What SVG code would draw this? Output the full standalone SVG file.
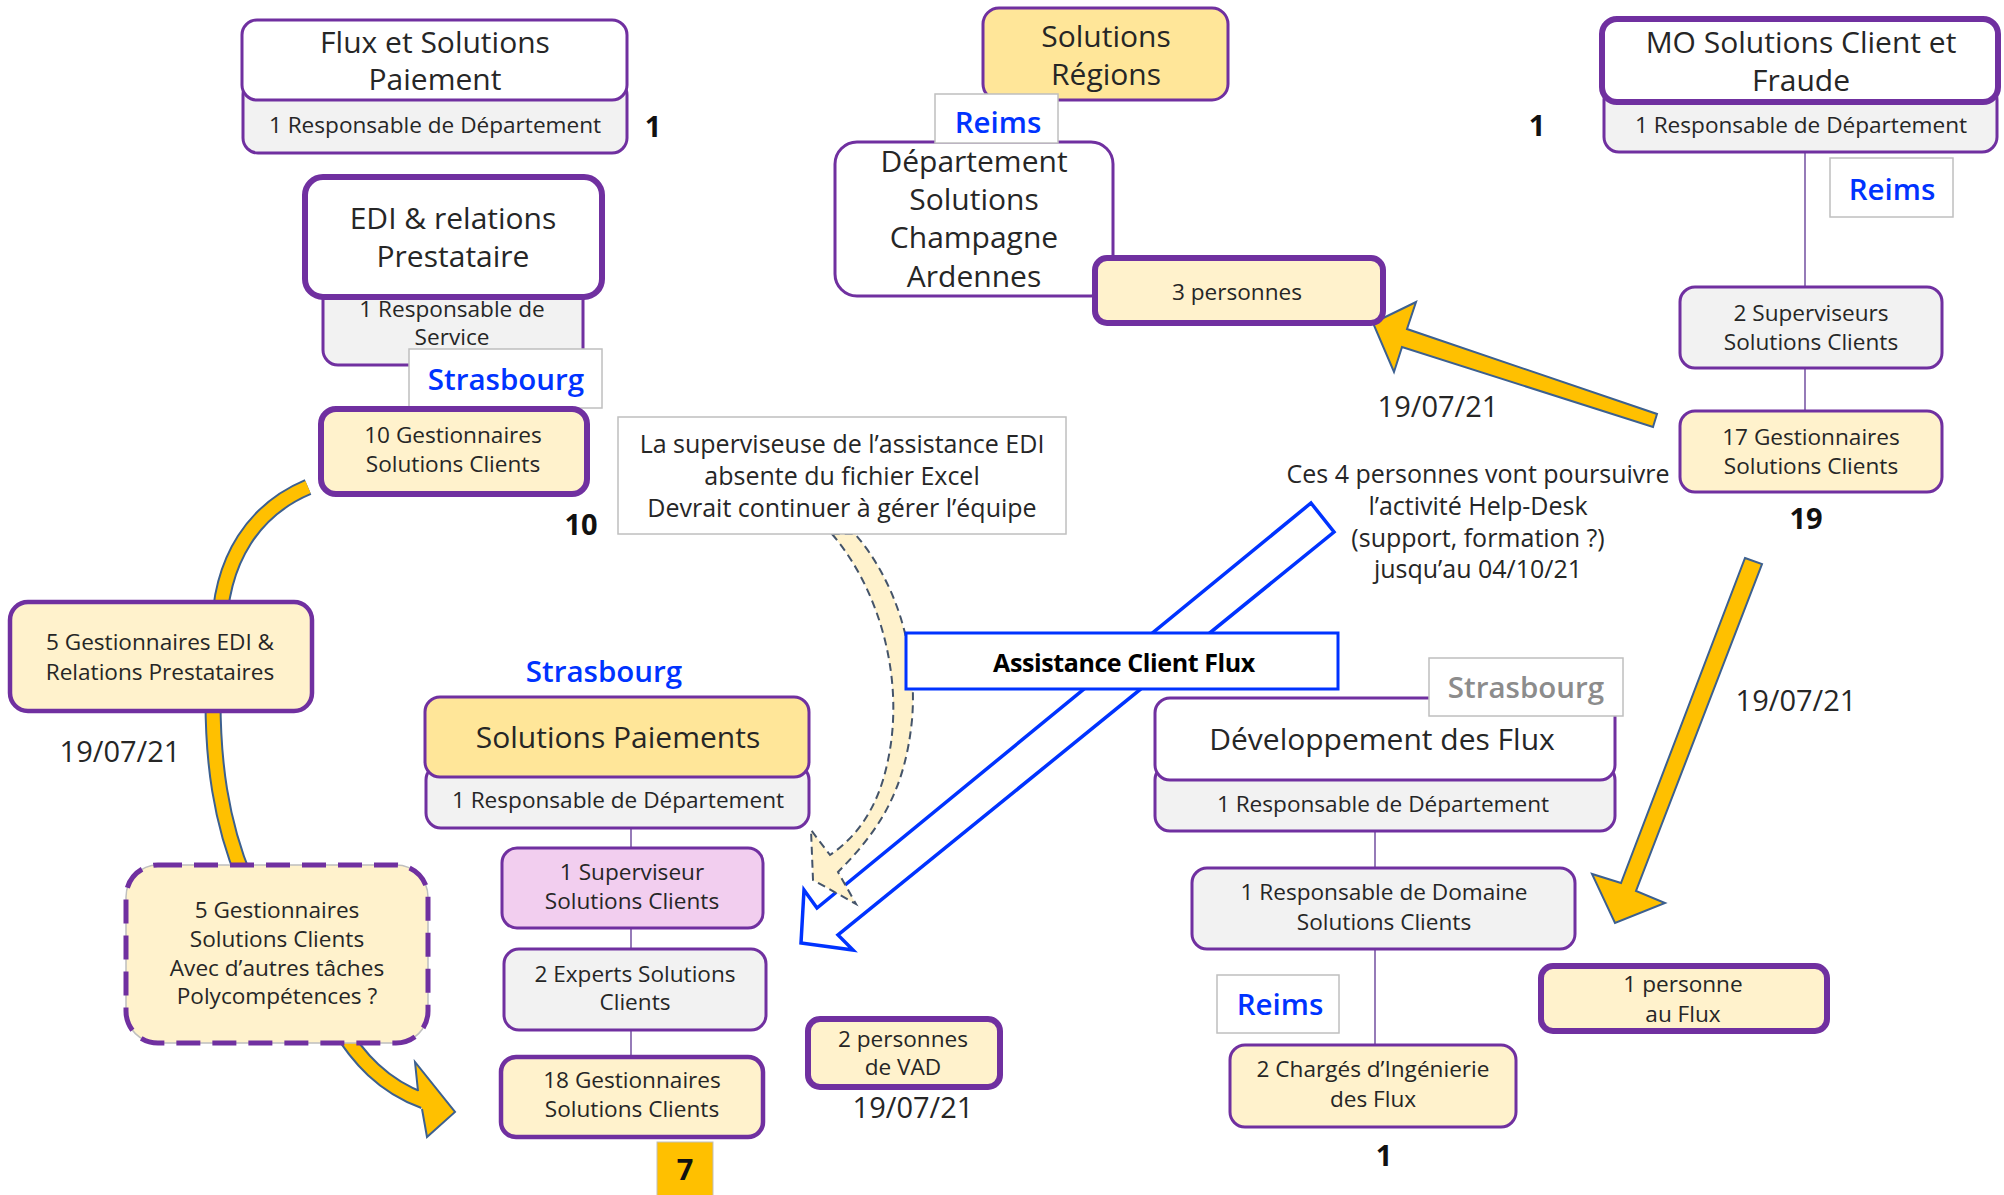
<svg xmlns="http://www.w3.org/2000/svg" width="2004" height="1195" viewBox="0 0 2004 1195">
<style>
text{font-family:"Open Sans","Noto Sans","DejaVu Sans",sans-serif;fill:#262626;text-anchor:middle}
.h{font-size:30px}
.s{font-size:22.6px}
.m{font-size:25px}
.dt{font-size:29px}
.num{font-size:29px;font-weight:700;fill:#111}
.loc{font-size:29.5px;font-weight:600;fill:#0033FF}
.locg{font-size:29.5px;font-weight:600;fill:#8C8C8C}
.lbl{font-size:25px;font-weight:700;fill:#000;letter-spacing:-0.4px}
.box{stroke:#7030A0;stroke-width:3}
.thick{stroke-width:6}
.mid{stroke-width:4.5}
.w{fill:#fff}
.g{fill:#F2F2F2}
.y{fill:#FFF2CC}
.gold{fill:#FFE699}
.pink{fill:#F2CEEF}
.tag{fill:#fff;stroke:#BFBFBF;stroke-width:1.5}
.link{stroke:#7B5AA6;stroke-width:1.6;fill:none}
.arr{fill:#FFC000;stroke:#3C6090;stroke-width:2;stroke-linejoin:miter}
.shaftO{fill:none;stroke:#3C6090;stroke-width:17}
.shaftI{fill:none;stroke:#FFC000;stroke-width:13}
</style>

<!-- connectors: tree lines and transfer arrows -->
<g id="connectors">
  <!-- hierarchy lines -->
  <line class="link" x1="1805" y1="152" x2="1805" y2="287"/>
  <line class="link" x1="1805" y1="368" x2="1805" y2="411"/>
  <line class="link" x1="631" y1="828" x2="631" y2="848"/>
  <line class="link" x1="631" y1="928" x2="631" y2="949"/>
  <line class="link" x1="631" y1="1030" x2="631" y2="1057"/>
  <line class="link" x1="1375" y1="831" x2="1375" y2="868"/>
  <line class="link" x1="1375" y1="949" x2="1375" y2="1045"/>

  <!-- MO team -> 3 personnes -->
  <polygon class="arr" points="1373,323 1416,302 1407,329 1657,414 1653,427 1402,347 1394,372"/>
  <!-- MO team -> 1 personne au Flux -->
  <polygon class="arr" points="1745,558 1762,564 1636,891 1665,903 1615,923 1592,874 1621,883"/>

  <!-- EDI team curved flow -->
  <path class="shaftO" d="M308,487 C258,508 218,556 219,640"/>
  <path class="shaftI" d="M308,487 C258,508 218,556 219,640"/>
  <path class="shaftO" d="M213,700 C213,760 220,820 245,880"/>
  <path class="shaftI" d="M213,700 C213,760 220,820 245,880"/>
  <path class="shaftO" d="M338,1025 C358,1058 383,1086 424,1101"/>
  <path class="shaftI" d="M338,1025 C358,1058 383,1086 424,1101"/>
  <polygon fill="#FFC000" points="418,1091 415,1062 455,1112 427,1137 422,1109"/>
  <polyline fill="none" stroke="#3C6090" stroke-width="2" points="418,1091 415,1062 455,1112 427,1137 422,1109"/>

  <!-- Assistance Client Flux hollow arrow -->
  <polygon fill="#fff" stroke="#0033FF" stroke-width="3.5" points="1311,503 1334,532 838,935 853,950 801,943 804,890 817,908"/>

  <!-- supervisor note dashed arrow -->
  <path fill="#FFF2CC" stroke="#44546A" stroke-width="2" stroke-dasharray="8 5" d="M832,534 C880,590 905,680 888,760 C878,810 855,838 830,855 L811,830 L813,880 L856,904 L838,872 C880,830 905,790 912,720 C918,650 895,580 855,534 Z"/>
</g>

<!-- Flux et Solutions Paiement -->
<g id="flux-solutions-paiement">
  <rect class="box g" x="243" y="80" width="384" height="73" rx="15"/>
  <rect class="box w" x="242" y="20" width="385" height="80" rx="15"/>
  <text class="h" x="435" y="53">Flux et Solutions</text>
  <text class="h" x="435" y="90">Paiement</text>
  <text class="s" x="435" y="133">1 Responsable de Département</text>
  <text class="num" x="653" y="137">1</text>
</g>

<!-- EDI & relations Prestataire -->
<g id="edi-relations">
  <rect class="box g" x="323" y="270" width="260" height="95" rx="15"/>
  <rect class="box thick w" x="305" y="177" width="297" height="120" rx="18"/>
  <text class="h" x="453" y="229">EDI &amp; relations</text>
  <text class="h" x="453" y="267">Prestataire</text>
  <text class="s" x="452" y="317">1 Responsable de</text>
  <text class="s" x="452" y="345">Service</text>
</g>
<g id="tag-strasbourg-edi">
  <rect class="tag" x="409" y="349" width="193" height="59"/>
  <text class="loc" x="506" y="390">Strasbourg</text>
</g>

<g id="gest-10">
  <rect class="box thick y" x="321" y="409" width="266" height="85" rx="15"/>
  <text class="s" x="453" y="443">10 Gestionnaires</text>
  <text class="s" x="453" y="472">Solutions Clients</text>
  <text class="num" x="581" y="535">10</text>
</g>

<g id="gest-edi-5">
  <rect class="box mid y" x="10" y="602" width="302" height="109" rx="18"/>
  <text class="s" x="160" y="650">5 Gestionnaires EDI &amp;</text>
  <text class="s" x="160" y="680">Relations Prestataires</text>
</g>
<text class="dt" x="120" y="762">19/07/21</text>

<g id="gest-poly-5">
  <rect x="126" y="865" width="302" height="178" rx="32" fill="#FFF2CC" stroke="#BFBFBF" stroke-width="1.5"/>
  <rect x="126" y="865" width="302" height="178" rx="32" fill="none" stroke="#7030A0" stroke-width="5" stroke-dasharray="24 12"/>
  <text class="s" x="277" y="918">5 Gestionnaires</text>
  <text class="s" x="277" y="947">Solutions Clients</text>
  <text class="s" x="277" y="976">Avec d’autres tâches</text>
  <text class="s" x="277" y="1004">Polycompétences ?</text>
</g>

<!-- note -->
<g id="note-superviseuse">
  <rect class="tag" x="618" y="417" width="448" height="117"/>
  <text class="m" x="842" y="453">La superviseuse de l’assistance EDI</text>
  <text class="m" x="842" y="485">absente du fichier Excel</text>
  <text class="m" x="842" y="517">Devrait continuer à gérer l’équipe</text>
</g>

<!-- Solutions Régions -->
<g id="solutions-regions">
  <rect class="box gold" x="983" y="8" width="245" height="92" rx="16"/>
  <text class="h" x="1106" y="47">Solutions</text>
  <text class="h" x="1106" y="85">Régions</text>
</g>
<g id="dept-champagne">
  <rect class="box w" x="835" y="142" width="278" height="154" rx="22"/>
  <text class="h" x="974" y="172">Département</text>
  <text class="h" x="974" y="210">Solutions</text>
  <text class="h" x="974" y="248">Champagne</text>
  <text class="h" x="974" y="287">Ardennes</text>
</g>
<g id="tag-reims-champagne">
  <rect class="tag" x="935" y="94" width="123" height="49"/>
  <text class="loc" x="998" y="133">Reims</text>
</g>
<g id="trois-personnes">
  <rect class="box thick y" x="1095" y="258" width="288" height="65" rx="12"/>
  <text class="s" x="1237" y="300">3 personnes</text>
</g>
<text class="dt" x="1438" y="417">19/07/21</text>

<!-- MO Solutions Client et Fraude -->
<g id="mo-solutions">
  <rect class="box g" x="1604" y="85" width="393" height="67" rx="15"/>
  <rect class="box thick w" x="1602" y="19" width="396" height="83" rx="15"/>
  <text class="h" x="1801" y="53">MO Solutions Client et</text>
  <text class="h" x="1801" y="91">Fraude</text>
  <text class="s" x="1801" y="133">1 Responsable de Département</text>
  <text class="num" x="1537" y="136">1</text>
</g>
<g id="tag-reims-mo">
  <rect class="tag" x="1830" y="158" width="123" height="59"/>
  <text class="loc" x="1892" y="200">Reims</text>
</g>
<g id="superviseurs-2">
  <rect class="box g" x="1680" y="287" width="262" height="81" rx="15"/>
  <text class="s" x="1811" y="321">2 Superviseurs</text>
  <text class="s" x="1811" y="350">Solutions Clients</text>
</g>
<g id="gest-17">
  <rect class="box y" x="1680" y="411" width="262" height="81" rx="15"/>
  <text class="s" x="1811" y="445">17 Gestionnaires</text>
  <text class="s" x="1811" y="474">Solutions Clients</text>
  <text class="num" x="1806" y="529">19</text>
</g>

<text class="m" x="1478" y="483">Ces 4 personnes vont poursuivre</text>
<text class="m" x="1478" y="515">l’activité Help-Desk</text>
<text class="m" x="1478" y="547">(support, formation ?)</text>
<text class="m" x="1478" y="578">jusqu’au 04/10/21</text>

<!-- Assistance Client Flux label -->
<g id="assistance-client-flux">
  <rect x="906" y="633" width="432" height="56" fill="#fff" stroke="#0033FF" stroke-width="3"/>
  <text class="lbl" x="1124" y="672">Assistance Client Flux</text>
</g>

<!-- Solutions Paiements -->
<text class="loc" x="604" y="682">Strasbourg</text>
<g id="solutions-paiements">
  <rect class="box g" x="426" y="765" width="383" height="63" rx="15"/>
  <rect class="box gold" x="425" y="697" width="384" height="80" rx="15"/>
  <text class="h" x="618" y="748">Solutions Paiements</text>
  <text class="s" x="618" y="808">1 Responsable de Département</text>
</g>
<g id="superviseur-1">
  <rect class="box pink" x="502" y="848" width="261" height="80" rx="15"/>
  <text class="s" x="632" y="880">1 Superviseur</text>
  <text class="s" x="632" y="909">Solutions Clients</text>
</g>
<g id="experts-2">
  <rect class="box g" x="504" y="949" width="262" height="81" rx="15"/>
  <text class="s" x="635" y="982">2 Experts Solutions</text>
  <text class="s" x="635" y="1010">Clients</text>
</g>
<g id="gest-18">
  <rect class="box mid y" x="501" y="1057" width="262" height="80" rx="15"/>
  <text class="s" x="632" y="1088">18 Gestionnaires</text>
  <text class="s" x="632" y="1117">Solutions Clients</text>
</g>
<g id="count-7">
  <rect x="657" y="1142" width="56" height="58" fill="#FFC000" stroke="#BFBFBF" stroke-width="1"/>
  <text class="num" x="685" y="1180">7</text>
</g>

<g id="vad-2">
  <rect class="box thick y" x="808" y="1019" width="192" height="68" rx="12"/>
  <text class="s" x="903" y="1047">2 personnes</text>
  <text class="s" x="903" y="1075">de VAD</text>
</g>
<text class="dt" x="913" y="1118">19/07/21</text>

<!-- Développement des Flux -->
<g id="developpement-flux">
  <rect class="box g" x="1155" y="765" width="460" height="66" rx="15"/>
  <rect class="box w" x="1155" y="698" width="460" height="82" rx="15"/>
  <text class="h" x="1382" y="750">Développement des Flux</text>
  <text class="s" x="1383" y="812">1 Responsable de Département</text>
</g>
<g id="tag-strasbourg-dev">
  <rect class="tag" x="1429" y="658" width="194" height="58"/>
  <text class="locg" x="1526" y="698">Strasbourg</text>
</g>
<g id="resp-domaine">
  <rect class="box g" x="1192" y="868" width="383" height="81" rx="15"/>
  <text class="s" x="1384" y="900">1 Responsable de Domaine</text>
  <text class="s" x="1384" y="930">Solutions Clients</text>
</g>
<g id="tag-reims-dev">
  <rect class="tag" x="1217" y="975" width="122" height="58"/>
  <text class="loc" x="1280" y="1015">Reims</text>
</g>
<g id="charges-2">
  <rect class="box y" x="1230" y="1045" width="286" height="82" rx="15"/>
  <text class="s" x="1373" y="1077">2 Chargés d’Ingénierie</text>
  <text class="s" x="1373" y="1107">des Flux</text>
  <text class="num" x="1384" y="1166">1</text>
</g>
<g id="personne-flux">
  <rect class="box thick y" x="1541" y="966" width="286" height="65" rx="12"/>
  <text class="s" x="1683" y="992">1 personne</text>
  <text class="s" x="1683" y="1022">au Flux</text>
</g>
<text class="dt" x="1796" y="711">19/07/21</text>
</svg>
